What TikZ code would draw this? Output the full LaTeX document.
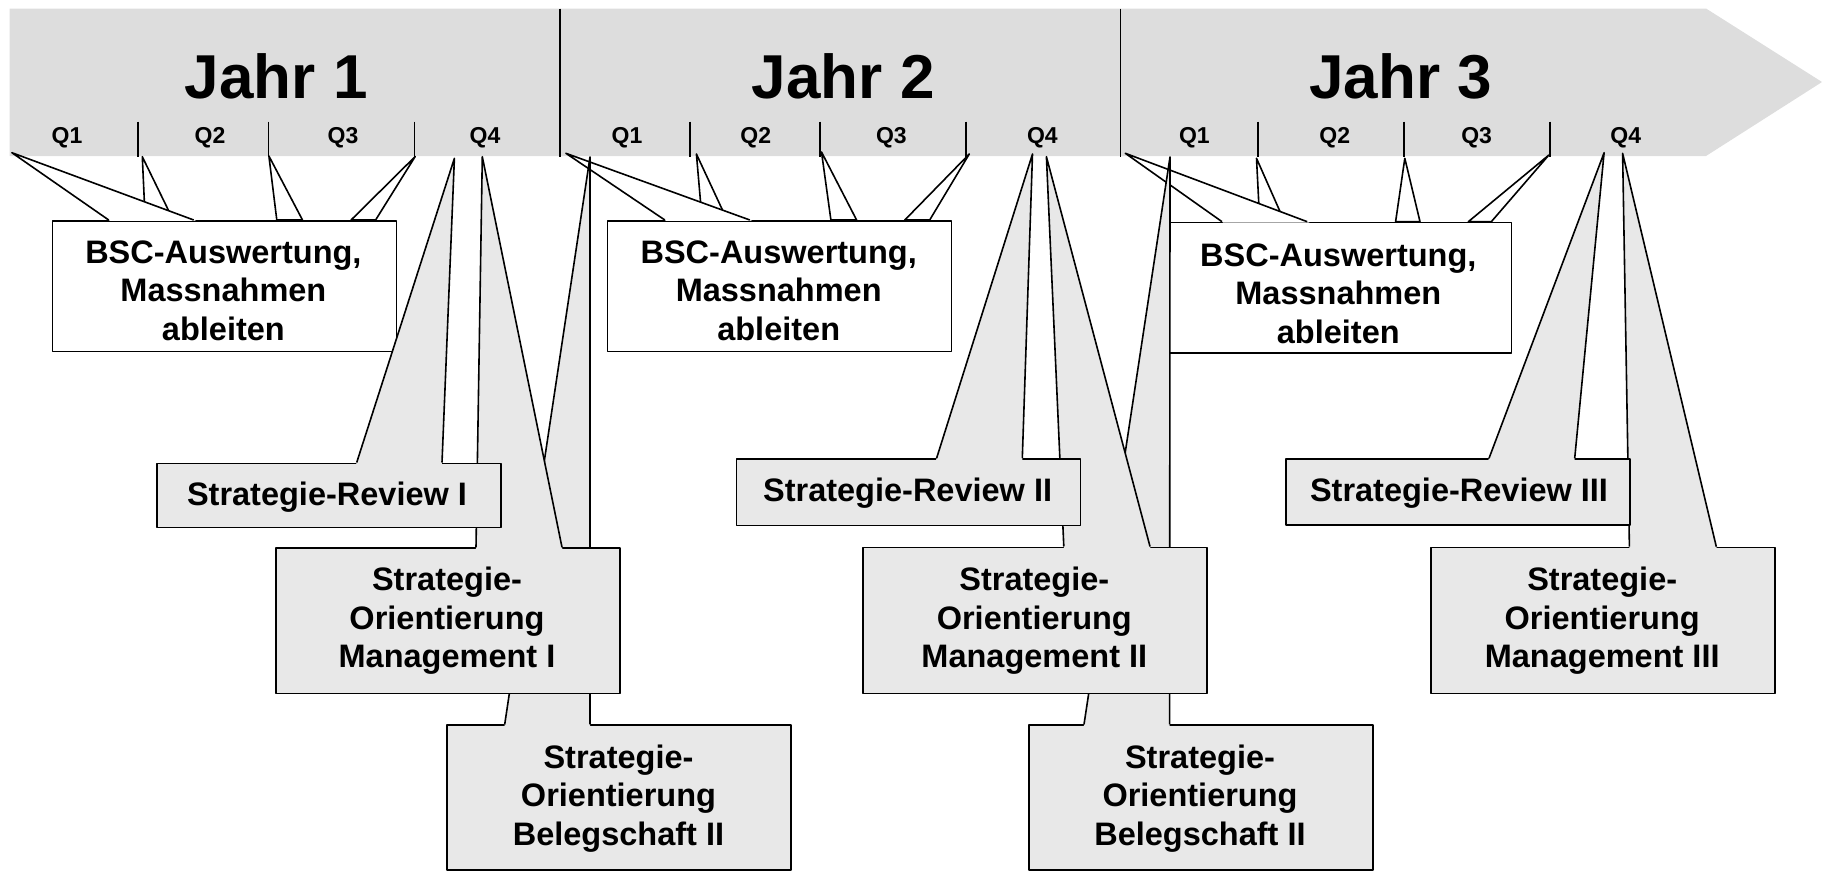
\documentclass[tikz,border=0pt]{standalone}
\usepackage{fontspec}
\setmainfont{Liberation Sans}
\usetikzlibrary{calc}
\definecolor{bandgray}{HTML}{DDDDDD}
\definecolor{boxgray}{HTML}{E8E8E8}
\newcommand{\zs}{\rule[-8pt]{0pt}{32pt}}
% grey callout: #1 name, #2 box x, #3 box y, #4 box height, #5 tip x, #6 tip y, #7 base left x, #8 base right x
\newcommand{\greycallout}[8]{%
  \coordinate (#1-tip) at (#5,#6);
  \coordinate (#1-bl) at (#7,#3);
  \coordinate (#1-br) at (#8,#3);
  \fill[boxgray] (#1-tip) -- (#1-bl) -- (#1-br) -- cycle;
  \node[gbox,minimum height=#4pt] (#1) at (#2,#3) {};
  \fill[boxgray] (#1-tip) -- ($(#1-tip)!1.012!(#1-bl)$) -- ($(#1-tip)!1.012!(#1-br)$) -- cycle;
  \draw (#1-bl) -- (#1-tip) -- (#1-br);
}
% hidden wedge under a white box: #1 name, #2 tip x, #3 tip y, #4 base y, #5 base left x, #6 base right x
\newcommand{\underwedge}[6]{%
  \coordinate (#1-tip) at (#2,#3);
  \coordinate (#1-bl) at (#5,#4);
  \coordinate (#1-br) at (#6,#4);
  \filldraw[fill=white] (#1-tip) -- (#1-bl) -- (#1-br) -- cycle;
}
% top wedge of a white box
\newcommand{\topwedge}[6]{%
  \coordinate (#1-tip) at (#2,#3);
  \coordinate (#1-bl) at (#5,#4);
  \coordinate (#1-br) at (#6,#4);
  \fill[white] (#1-tip) -- ($(#1-tip)!1.012!(#1-bl)$) -- ($(#1-tip)!1.012!(#1-br)$) -- cycle;
  \draw (#1-bl) -- (#1-tip) -- (#1-br);
}
\begin{document}
\begin{tikzpicture}[x=1pt,y=-1pt,line width=1.6pt,line join=round,
  wbox/.style={draw=black,fill=white,anchor=north west,inner sep=0pt,minimum width=344pt,minimum height=130.5pt},
  gbox/.style={draw=black,fill=boxgray,anchor=north west,inner sep=0pt,minimum width=344pt},
  txt/.style={font=\bfseries\fontsize{32.5}{38.5}\selectfont,align=center,inner sep=0pt},
  rtxt/.style={font=\bfseries\fontsize{32.5}{38.5}\selectfont,inner sep=0pt,anchor=base},
  qlbl/.style={font=\bfseries\fontsize{23}{23}\selectfont,inner sep=0pt,anchor=base},
  ylbl/.style={font=\bfseries\fontsize{62}{62}\selectfont,inner sep=0pt,anchor=base}]
\useasboundingbox (0,0) rectangle (1822,870);

% timeline arrow
\fill[bandgray] (9.5,8.5) -- (1706,8.5) -- (1822,82) -- (1706,156) -- (9.5,156) -- cycle;
\draw (560,8.5) -- (560,156.5);
\draw (1120.5,8.5) -- (1120.5,156.5);
\foreach \tx in {138,268.5,414.3,689.7,820.2,966,1257.9,1403.9,1549.8}
  \draw (\tx,121.7) -- (\tx,156.5);

\node[ylbl] (j1) at (276.3,98.3) {Jahr 1};
\node[ylbl] (j2) at (843.3,98.3) {Jahr 2};
\node[ylbl] (j3) at (1400.5,98.3) {Jahr 3};

\node[qlbl] (a1) at (67,143.3) {Q1};
\node[qlbl] (a2) at (210,143.3) {Q2};
\node[qlbl] (a3) at (343,143.3) {Q3};
\node[qlbl] (a4) at (485,143.3) {Q4};
\node[qlbl] (b1) at (627,143.3) {Q1};
\node[qlbl] (b2) at (755.7,143.3) {Q2};
\node[qlbl] (b3) at (891.4,143.3) {Q3};
\node[qlbl] (b4) at (1042.4,143.3) {Q4};
\node[qlbl] (c1) at (1194.4,143.3) {Q1};
\node[qlbl] (c2) at (1334.8,143.3) {Q2};
\node[qlbl] (c3) at (1476.6,143.3) {Q3};
\node[qlbl] (c4) at (1625.8,143.3) {Q4};

% BSC callouts (white)
\underwedge{s1w4}{415.2}{156.5}{220}{351.1}{375.6}
\underwedge{s1w3}{268.9}{156}{220}{276.8}{302.5}
\underwedge{s1w2}{142.3}{156.7}{220}{145.2}{173.2}
\node[wbox] (bsc1) at (51.5,220) {};
\topwedge{s1w1}{11.9}{152.7}{220}{108.7}{193.7}

\underwedge{s2w4}{969.3}{154}{220}{904.8}{929.7}
\underwedge{s2w3}{821.5}{152}{220}{830.9}{856.6}
\underwedge{s2w2}{696.4}{154}{220}{702.1}{727.1}
\node[wbox] (bsc2) at (606.7,220) {};
\topwedge{s2w1}{565.9}{153.3}{220}{664.8}{749.8}

\underwedge{s3w4}{1548.9}{155}{221.7}{1468.3}{1491.3}
\underwedge{s3w3}{1404.8}{158.3}{221.7}{1395.6}{1420}
\underwedge{s3w2}{1256.5}{158.3}{221.7}{1259.7}{1284.5}
\node[wbox] (bsc3) at (1166.8,221.7) {};
\topwedge{s3w1}{1125.3}{153.3}{221.7}{1222}{1307.2}

% grey callouts
\greycallout{bel1}{446}{724.4}{145}{590}{157}{504.7}{590}
\greycallout{man1}{275}{547.3}{145.4}{482.3}{156.7}{476}{562}
\greycallout{rev1}{156}{462.5}{64}{454.4}{158.3}{356.7}{442}

\greycallout{bel2}{1028}{724.4}{145}{1170}{157}{1084}{1169.6}
\greycallout{man2}{862}{546.5}{146.2}{1046.4}{156.7}{1063.8}{1150}
\greycallout{rev2}{735.7}{458.2}{66.5}{1032.5}{154}{936.6}{1022.3}

\greycallout{man3}{1429.9}{546.7}{146}{1622.6}{153.3}{1629.4}{1716.3}
\greycallout{rev3}{1285.4}{458.3}{66}{1604.1}{152.7}{1489}{1574.7}

% texts
\node[txt] (bsc1-t) at (223.4,293.7) {\zs BSC-Auswertung,\\\zs Massnahmen\\\zs ableiten};
\node[txt] (bsc2-t) at (778.7,293.7) {\zs BSC-Auswertung,\\\zs Massnahmen\\\zs ableiten};
\node[txt] (bsc3-t) at (1338.3,296.5) {\zs BSC-Auswertung,\\\zs Massnahmen\\\zs ableiten};

\node[rtxt] (rev1-t) at (327,505.5) {Strategie-Review I};
\node[rtxt] (rev2-t) at (907.6,501.8) {Strategie-Review II};
\node[rtxt] (rev3-t) at (1459,501.7) {Strategie-Review III};

\node[txt] (man1-t) at (447,621) {\zs Strategie-\\\zs Orientierung\\\zs Management I};
\node[txt] (man2-t) at (1034.3,621) {\zs Strategie-\\\zs Orientierung\\\zs Management II};
\node[txt] (man3-t) at (1602.2,621) {\zs Strategie-\\\zs Orientierung\\\zs Management III};

\node[txt] (bel1-t) at (618.5,798.7) {\zs Strategie-\\\zs Orientierung\\\zs Belegschaft II};
\node[txt] (bel2-t) at (1200,798.7) {\zs Strategie-\\\zs Orientierung\\\zs Belegschaft II};
\end{tikzpicture}
\end{document}
